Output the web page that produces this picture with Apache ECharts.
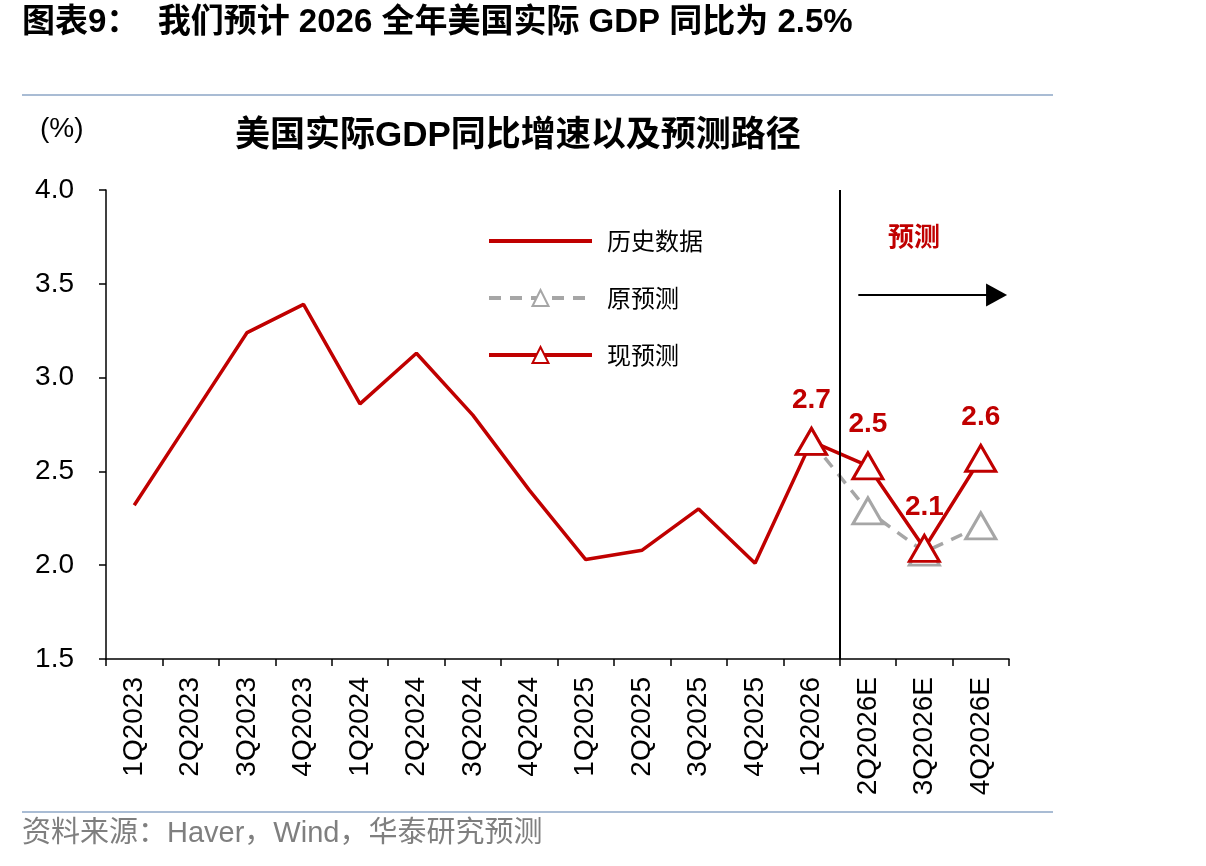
<!DOCTYPE html>
<html>
<head>
<meta charset="utf-8">
<title>美国实际GDP同比增速以及预测路径</title>
<script src="https://cdn.jsdelivr.net/npm/echarts@6/dist/echarts.min.js"></script>
<style>
    html, body { margin: 0; padding: 0; background: #fff; }
    #chart { width: 1206px; height: 866px; }
</style>
</head>
<body>
<div id="chart"></div>
<script>
// Quarters on the x axis
const quarters = ['1Q2023', '2Q2023', '3Q2023', '4Q2023', '1Q2024', '2Q2024', '3Q2024', '4Q2024',
    '1Q2025', '2Q2025', '3Q2025', '4Q2025', '1Q2026', '2Q2026E', '3Q2026E', '4Q2026E'];

const history = [2.32, 2.78, 3.24, 3.39, 2.86, 3.13, 2.80, 2.40, 2.03, 2.08, 2.30, 2.01, 2.66, null, null, null];
const oldForecast = [null, null, null, null, null, null, null, null, null, null, null, null, 2.66, 2.29, 2.07, 2.21];
const newForecast = [null, null, null, null, null, null, null, null, null, null, null, null, 2.66, 2.53, 2.09, 2.57];

// y axis ticks
const yTicks = { min: 1.5, max: 4.0, step: 0.5 };

// where the forecast zone starts (in category units) and the arrow annotation
const forecastStart = 13;
const arrowFrom = [13.33, 3.44];
const arrowTo = [15.78, 3.44];

const RED = '#C00000';
const GREY = '#A6A6A6';
const LATIN = '"Liberation Sans", Arial, "Noto Sans CJK SC", sans-serif';
const CJK = '"Noto Sans CJK SC", "Liberation Sans", sans-serif';

const chart = echarts.init(document.getElementById('chart'));

const option = {
    backgroundColor: '#fff',
    animation: false,
    grid: { left: 106, right: 197, top: 190, bottom: 207 },
    legend: {
        orient: 'vertical',
        left: 482,
        top: 224,
        itemWidth: 103,
        itemHeight: 20,
        itemGap: 33,
        lineStyle: { width: 4 },
        data: [
            // no marker on the history line
            { name: '历史数据', itemStyle: { opacity: 0 } },
            '原预测',
            '现预测'
        ],
        textStyle: { fontFamily: CJK, fontSize: 24, color: '#000', padding: [0, 0, 0, 10] }
    },
    graphic: [
        {
            type: 'text', left: 22, top: 6,
            style: { text: '图表9：  我们预计 2026 全年美国实际 GDP 同比为 2.5%', fontFamily: LATIN, fontWeight: 'bold', fontSize: 33, fill: '#000' }
        },
        {
            type: 'line', shape: { x1: 22, y1: 95, x2: 1053, y2: 95 },
            style: { stroke: '#A9BCD4', lineWidth: 2 }
        },
        {
            type: 'text', left: 40, top: 115,
            style: { text: '(%)', fontFamily: LATIN, fontSize: 28, fill: '#000' }
        },
        {
            type: 'text', left: 235, top: 119,
            style: { text: '美国实际GDP同比增速以及预测路径', fontFamily: LATIN, fontWeight: 'bold', fontSize: 35, fill: '#000' }
        },
        {
            type: 'text', left: 888, top: 223,
            style: { text: '预测', fontFamily: CJK, fontWeight: 'bold', fontSize: 26, fill: RED }
        },
        {
            type: 'line', shape: { x1: 22, y1: 812, x2: 1053, y2: 812 },
            style: { stroke: '#A9BCD4', lineWidth: 2 }
        },
        {
            type: 'text', left: 22, top: 819,
            style: { text: '资料来源：Haver，Wind，华泰研究预测', fontFamily: LATIN, fontSize: 29, fill: '#7F7F7F' }
        }
    ],
    xAxis: [
        {
            type: 'category',
            data: quarters,
            boundaryGap: true,
            axisLine: { lineStyle: { color: '#000', width: 1.5 } },
            axisTick: { show: true, length: 7, lineStyle: { color: '#000', width: 1.5 } },
            axisLabel: { rotate: 90, color: '#000', fontFamily: LATIN, fontSize: 28, margin: 18, interval: 0 },
            splitLine: { show: false }
        },
        {
            // hidden helper axis for the forecast divider and arrow
            type: 'value', min: 0, max: quarters.length, show: false
        }
    ],
    yAxis: {
        type: 'value',
        min: yTicks.min,
        max: yTicks.max,
        interval: yTicks.step,
        axisLine: { show: true, lineStyle: { color: '#000', width: 1.5 } },
        axisTick: { show: true, length: 7, lineStyle: { color: '#000', width: 1.5 } },
        axisLabel: {
            color: '#000', fontFamily: LATIN, fontSize: 28, margin: 32,
            formatter: v => v.toFixed(1)
        },
        splitLine: { show: false }
    },
    series: [
        {
            name: '历史数据',
            type: 'line',
            data: history,
            symbol: 'none',
            lineStyle: { color: RED, width: 3.5 },
            itemStyle: { color: RED },
            z: 3
        },
        {
            name: '原预测',
            type: 'line',
            data: oldForecast,
            symbol: 'triangle',
            symbolSize: [30, 26],
            lineStyle: { color: GREY, width: 3.5, type: [12, 9] },
            itemStyle: { color: '#fff', borderColor: GREY, borderWidth: 3 },
            z: 2
        },
        {
            name: '现预测',
            type: 'line',
            data: newForecast,
            symbol: 'triangle',
            symbolSize: [30, 26],
            lineStyle: { color: RED, width: 3.5 },
            itemStyle: { color: '#fff', borderColor: RED, borderWidth: 3 },
            label: {
                show: true,
                position: 'top',
                distance: 13,
                color: RED,
                fontFamily: LATIN,
                fontWeight: 'bold',
                fontSize: 28,
                formatter: p => p.value.toFixed(1)
            },
            z: 4
        },
        {
            name: 'divider',
            type: 'line',
            xAxisIndex: 1,
            data: [],
            silent: true,
            markLine: {
                silent: true,
                animation: false,
                label: { show: false },
                data: [
                    [{ coord: [forecastStart, yTicks.min], symbol: 'none' }, { coord: [forecastStart, yTicks.max], symbol: 'none' }],
                    [{ coord: arrowFrom, symbol: 'none' }, { coord: arrowTo, symbol: 'triangle', symbolSize: [23, 21] }]
                ],
                lineStyle: { color: '#000', width: 2, type: 'solid' }
            }
        }
    ]
};

chart.setOption(option);
window.addEventListener('resize', () => chart.resize());
</script>
</body>
</html>
